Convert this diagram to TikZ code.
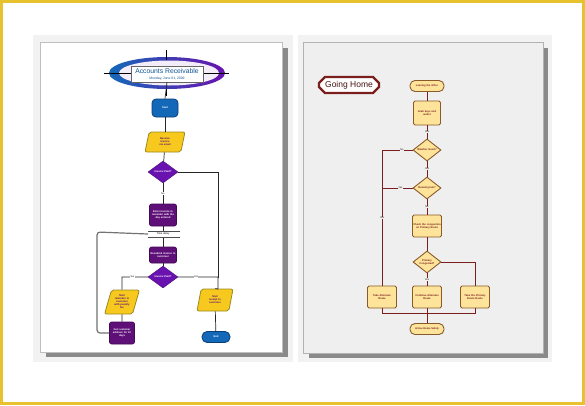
\documentclass[tikz,border=0pt]{standalone}
\usepackage{fontspec}
\setmainfont{Liberation Sans}
\usetikzlibrary{shapes.geometric,shapes.misc,arrows.meta}
\definecolor{frameY}{HTML}{E8C22E}
\definecolor{pgray}{HTML}{8A8A8A}
\definecolor{pageR}{HTML}{EFEFEF}
\definecolor{purp}{HTML}{5E0F78}
\definecolor{purpD}{HTML}{6A12B0}
\definecolor{yel}{HTML}{F7C81E}
\definecolor{yelB}{HTML}{9A8A20}
\definecolor{blu}{HTML}{1468B8}
\definecolor{bluD}{HTML}{0B3E78}
\definecolor{cream}{HTML}{FDE49A}
\definecolor{brn}{HTML}{7A1E1E}
\definecolor{brnB}{HTML}{8B5A2B}
\begin{document}
\begin{tikzpicture}[x=1pt,y=-1pt,
 tiny/.style={font=\fontsize{2.6}{3}\selectfont\bfseries, align=center, inner sep=0.5pt},
 lbl/.style={font=\fontsize{2.4}{3}\selectfont, fill=white, inner sep=0.4pt},
 lblr/.style={font=\fontsize{2.4}{3}\selectfont, fill=pageR, inner sep=0.4pt},
 lline/.style={draw=black!85, line width=0.7pt},
 gline/.style={draw=black!55, line width=1.2pt},
 rline/.style={draw=brn, line width=0.8pt},
 purpbox/.style={tiny, text=white, fill=purp, draw=purp!70!black, line width=0.6pt, rounded corners=2pt, text width=26pt, minimum height=16pt},
 purpdia/.style={tiny, text=white, fill=purpD, draw=purpD!70!black, diamond, aspect=1.4, inner sep=0pt, minimum width=30pt, minimum height=22pt},
 yelpar/.style={tiny, text=purp, fill=yel, draw=yelB, line width=0.8pt, trapezium, trapezium left angle=65, trapezium right angle=115, trapezium stretches body, rounded corners=2pt, minimum width=40pt, minimum height=20pt},
 blueterm/.style={tiny, text=white, fill=blu, draw=bluD, line width=0.8pt, rounded corners=5pt, minimum width=26pt, minimum height=12pt},
 crbox/.style={tiny, text=brn, fill=cream, draw=brnB, line width=0.9pt, rounded corners=1.5pt, text width=28pt, minimum height=22pt},
 crterm/.style={tiny, text=brn, fill=cream, draw=brnB, line width=0.9pt, rounded corners=5pt, minimum width=34pt, minimum height=11pt},
 crdia/.style={tiny, text=brn, fill=cream, draw=brnB, line width=0.9pt, diamond, aspect=1.35, inner sep=0pt, minimum width=28pt, minimum height=22pt},
]
\useasboundingbox (0,0) rectangle (585,405);
\fill[white] (0,0) rectangle (585,405);
\draw[frameY, line width=3pt] (1.5,1.5) rectangle (583.5,403.5);

% left page
\fill[black!5] (33,35) rectangle (293,362);
\fill[pgray] (46,48) rectangle (288,357);
\fill[white] (40,42) rectangle (282,352);
\draw[black!25, line width=0.4pt] (40,42) rectangle (282,352);
% right page
\fill[black!5] (298,35) rectangle (552,362);
\fill[pgray] (309,48) rectangle (548,358);
\fill[pageR] (303,42) rectangle (543,353);
\draw[black!30, line width=0.4pt] (303,42) rectangle (543,353);

% ---------- left chart ----------
\draw[black, line width=0.6pt] (166,50) -- (166,96);
\shade[left color=blu, right color=purpD, middle color=blu!50!purpD] (167,73) ellipse (58pt and 16pt);
\fill[white!92!purpD] (169,73) ellipse (50pt and 12.5pt);
\draw[black, line width=0.6pt] (104,73) -- (229,73);
\draw[black, line width=0.6pt] (166,50) -- (166,60);
\node[draw=black!60, fill=white, line width=0.5pt, minimum width=72pt, minimum height=16pt, inner sep=0pt] (title) at (167,74) {};
\node[font=\fontsize{6.8}{8}\selectfont, text=blu!80!black] (tt) at (167,71) {Accounts Receivable};
\node[font=\fontsize{3.4}{4}\selectfont, text=blu!80!black] (td) at (167,78.3) {Monday, June 01, 2009};

\node[blueterm, minimum height=18pt, rounded corners=4pt] (start) at (165,108) {Start};
\node[yelpar, text width=24pt] (recv) at (165,142) {Receive\\ invoice\\ via email};
\node[purpdia] (d1) at (163,172) {Invoice Paid?};
\node[purpbox, minimum height=22pt] (enter) at (163,215) {Enter invoice in\\ reminder with the\\ day entered};
\coordinate (tdl) at (148,234);
\draw[black!70, line width=1pt] (148,231) -- (180,231);
\draw[black!70, line width=1pt] (148,237.5) -- (180,237.5);
\node[font=\fontsize{2.6}{3}\selectfont, fill=white, inner sep=0.3pt] (delay) at (163,234.2) {Time delay};
\node[purpbox] (resub) at (163,255) {Resubmit invoice to\\ customer};
\node[purpdia] (d2) at (163,277) {Invoice Paid?};
\node[yelpar, minimum width=34pt, minimum height=24pt, text width=20pt] (mailL) at (122,302) {Mail\\ reminder to\\ customer\\ with penalty\\ fee};
\node[purpbox, text width=24pt, minimum height=22pt] (get) at (122,333) {Get customer\\ address for 10\\ days};
\node[yelpar, minimum width=36pt, minimum height=22pt, text width=22pt] (mailR) at (215,300) {Mail\\ receipt to\\ customer};
\node[blueterm, minimum width=28pt, minimum height=11pt] (end) at (216,337) {End};

\draw[lline] (title.south) -- (start.north);
\draw[lline] (start) -- (recv);
\draw[lline] (recv) -- (d1);
\draw[lline] (d1) -- node[lbl]{No} (enter);
\draw[lline] (enter) -- (163,231);
\draw[lline] (163,237.5) -- (resub);
\draw[lline] (resub) -- (d2);
\draw[lline] (d1.east) -| (218,278);
\draw[lline] (d2.east) -- node[lbl, pos=0.45]{Yes} (218,277) -- (218,289) -- (mailR.north);
\draw[lline] (d2.west) -- node[lbl, pos=0.6]{Yes} (122,277) -- (mailL.north);
\draw[lline] (mailL) -- (get);
\draw[lline] (mailR) -- (end);
\draw[gline, rounded corners=3pt] (get.west) -| (97,232) -- (tdl);

% ---------- right chart ----------
\node[chamfered rectangle, chamfered rectangle xsep=3pt, chamfered rectangle ysep=3pt, draw=brn, line width=2.4pt, fill=white, minimum width=60pt, minimum height=15pt, inner sep=1pt, font=\fontsize{8.5}{9}\selectfont, text=brn!60!black] (gh) at (349,85) {Going Home};

\node[crterm] (leave) at (427,86) {Leaving the office};
\node[crbox, text width=26pt, minimum height=24pt] (grab) at (427,113) {Grab keys and\\ wallet};
\node[crdia] (w) at (427,150) {Weather Good?};
\node[crdia] (late) at (427,188) {Running late?};
\node[crbox] (check) at (427,226) {Check the congestion\\ on Primary Route};
\node[crdia] (cong) at (427,262) {Primary\\ Congested?};
\node[crbox] (alt) at (382,297) {Take Alternate \\ Route};
\node[crbox] (cont) at (427,297) {Continue Alternate \\ Route};
\node[crbox] (free) at (475,297) {Take the Primary\\ Route Route};
\node[crterm] (home) at (427,329) {Arrive Home Safely};

\draw[rline] (leave) -- (grab);
\draw[rline] (grab) -- node[lblr]{Yes} (w);
\draw[rline] (w) -- node[lblr]{Yes} (late);
\draw[rline] (late) -- node[lblr]{No} (check);
\draw[rline] (check) -- (cong);
\draw[rline] (cong) -- node[lblr]{Yes} (cont);
\draw[rline] (w.west) -- node[lblr, pos=0.35]{No} (382,150) -- node[lblr, pos=0.5]{Yes} (alt.north);
\draw[rline] (late.west) -- node[lblr, pos=0.4]{Yes} (382,188);
\draw[rline] (cong.east) -| (free.north);
\draw[rline] (alt.south) |- (427,313);
\draw[rline] (free.south) |- (427,313);
\draw[rline] (cont.south) -- (home.north);
\end{tikzpicture}
\end{document}
